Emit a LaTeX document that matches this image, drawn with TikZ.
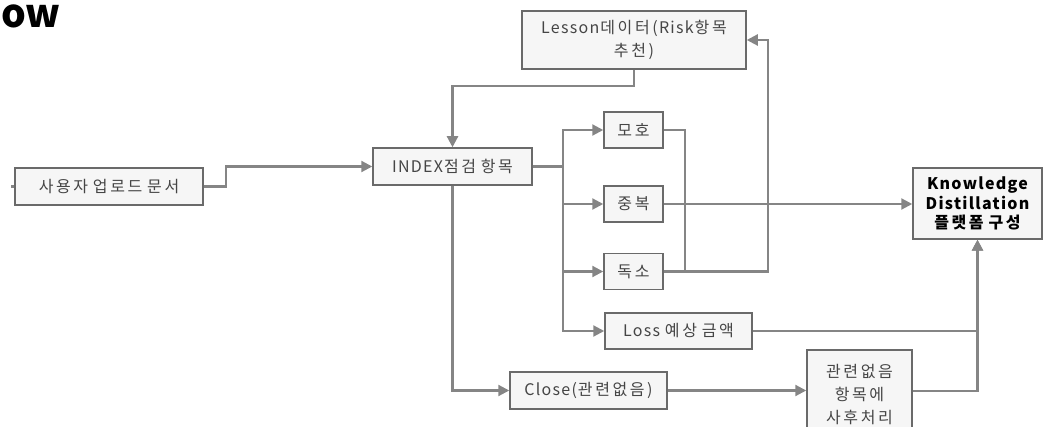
\documentclass[tikz,border=0pt]{standalone}
\usepackage{fontspec}
\setmainfont{Noto Sans CJK KR}[LetterSpace=8]
\newfontfamily\plainfont{Noto Sans CJK KR}
\usetikzlibrary{arrows.meta}
\newXeTeXintercharclass\hgclass
\count255="AC00
\loop
  \XeTeXcharclass\count255=\hgclass
  \advance\count255 by 1
\ifnum\count255<"D7A4 \repeat
\XeTeXinterchartokenstate=1
\XeTeXinterchartoks\hgclass\hgclass={\kern2.6pt}
\XeTeXinterchartoks\hgclass 0={\kern2.6pt}
\XeTeXinterchartoks 0\hgclass={\kern1pt}
\definecolor{lncol}{HTML}{858585}
\definecolor{bdcol}{HTML}{6A6A6A}
\definecolor{bxfill}{HTML}{F6F6F6}
\definecolor{txcol}{HTML}{454545}
\tikzset{
  box/.style={draw=bdcol, line width=1.5pt, fill=bxfill, text=txcol, inner sep=0pt,
    font=\fontsize{16}{23}\selectfont, align=center},
  conn/.style={draw=lncol, line width=2.2pt},
  arr/.style={conn, -{Triangle[length=11pt,width=11pt]}},
}
\begin{document}
\begin{tikzpicture}[x=1pt,y=-1pt]
\useasboundingbox (0,0) rectangle (1050,427);
\node[anchor=base west, inner sep=0pt, text height=21pt, text depth=0pt,
  font=\plainfont\fontsize{39}{40}\selectfont\bfseries] (ttl) at (1,28) {ow};
\node[box, minimum width=188pt, minimum height=37pt] (b1) at (109,186.5) {사용자 업로드 문서};
\node[box, minimum width=159pt, minimum height=37pt] (idx) at (452.5,166.5) {INDEX점검 항목};
\node[box, minimum width=224pt, minimum height=58pt] (les) at (634,40) {Lesson데이터(Risk항목\\추천)};
\node[box, minimum width=59pt, minimum height=36pt] (moho) at (633.5,130) {모호};
\node[box, minimum width=59pt, minimum height=36pt] (jung) at (633.5,204) {중복};
\node[box, minimum width=59pt, minimum height=36pt] (dok) at (633.5,271.5) {독소};
\node[box, minimum width=147pt, minimum height=36pt] (loss) at (678.5,331) {Loss 예상 금액};
\node[box, minimum width=157pt, minimum height=37pt] (close) at (588.5,390.5) {Close(관련없음)};
\node[box, minimum width=105pt, minimum height=90pt] (rel) at (859.5,395) {관련없음\\항목에\\사후처리};
\node[box, minimum width=129pt, minimum height=71pt, text=black,
  font=\fontsize{16}{19.5}\selectfont\bfseries] (knw) at (977.5,203.5) {Knowledge\\Distillation\\플랫폼 구성};
\coordinate (in) at (11,186.5);
\coordinate (bus) at (563,166.5);
\coordinate (mj) at (685,130);
\coordinate (dj) at (768,271.5);
\draw[conn] (in) -- (b1.west);
\draw[arr] (b1.east) -- ++(22,0) |- (idx.west);
\draw[arr] (les.south) -- ++(0,16) -| (idx.north);
\draw[arr] (idx.east) -- (bus) |- (moho.west);
\draw[arr] (idx.east) -- (bus) |- (jung.west);
\draw[arr] (idx.east) -- (bus) |- (dok.west);
\draw[arr] (idx.east) -- (bus) |- (loss.west);
\draw[arr] (idx.south) |- (close.west);
\draw[conn] (moho.east) -- (mj) |- (dok.east);
\draw[arr] (dok.east) -- (dj) |- (les.east);
\draw[arr] (jung.east) -- (jung.east -| knw.west);
\draw[arr] (loss.east) -| (knw.south);
\draw[arr] ([yshift=4pt]rel.east) -| (knw.south);
\draw[arr] (close.east) -- (close.east -| rel.west);
\end{tikzpicture}
\end{document}
